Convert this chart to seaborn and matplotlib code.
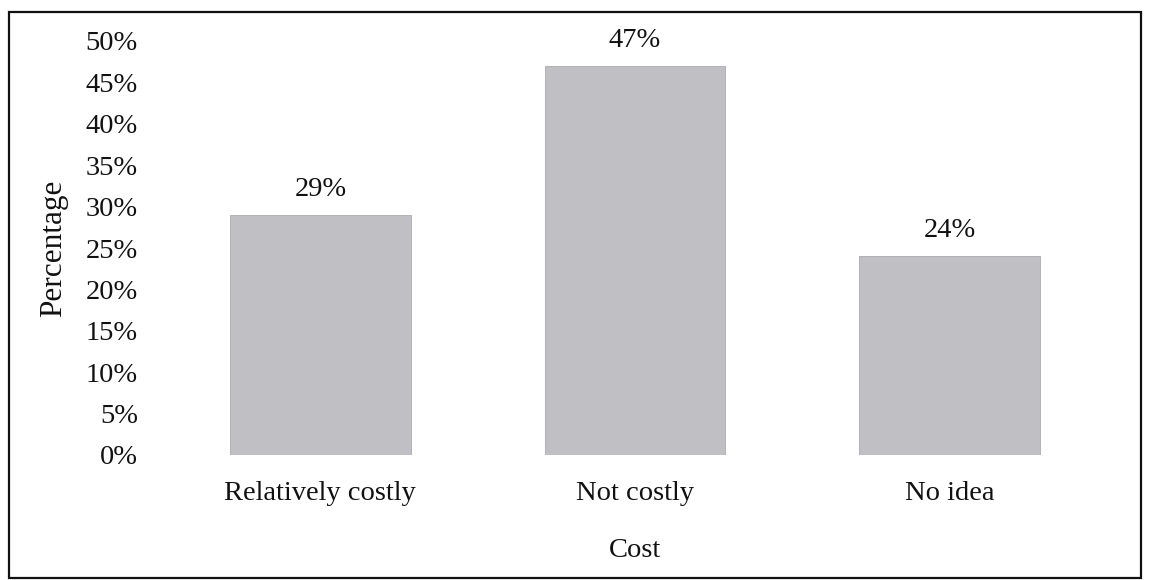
import matplotlib
matplotlib.use("Agg")
import matplotlib.pyplot as plt
import seaborn as sns
import pandas as pd
from matplotlib.patches import Rectangle
from matplotlib.ticker import FuncFormatter

categories = ["Relatively costly", "Not costly", "No idea"]
percentages = [29, 47, 24]
y_ticks = [0, 5, 10, 15, 20, 25, 30, 35, 40, 45, 50]

sns.set_theme(style="white")
plt.rcParams["font.family"] = ["Liberation Serif", "DejaVu Serif"]

df = pd.DataFrame({"Cost": categories, "Percentage": percentages})

fig = plt.figure(figsize=(11.49, 5.8), dpi=100)
ax = fig.add_axes([163 / 1149, 1 - 455 / 580, (1107 - 163) / 1149, (455 - 41) / 580])

sns.barplot(data=df, x="Cost", y="Percentage", color="#bfbfc4", width=0.575,
            saturation=1, ax=ax)
for p in ax.patches:
    p.set_edgecolor("#aaaaaf")
    p.set_linewidth(0.6)

ax.set_xlim(-0.5, 2.5)
ax.set_ylim(0, 50)
ax.set_yticks(y_ticks)
ax.yaxis.set_major_formatter(FuncFormatter(lambda v, _: f"{v:.0f}%"))
ax.tick_params(axis="both", length=0, labelsize=20.5, colors="#111111")
ax.tick_params(axis="y", pad=18)
ax.tick_params(axis="x", pad=19)
for s in ax.spines.values():
    s.set_visible(False)

ax.set_xlabel("Cost", fontsize=20.5, color="#111111", labelpad=23)
ax.set_ylabel("Percentage", fontsize=22.5, color="#111111", labelpad=13)

for i, v in enumerate(percentages):
    ax.text(i, v + 1.55, f"{v}%", ha="center", va="bottom", fontsize=20.5, color="#111111")

fig.patches.append(Rectangle((9 / 1149, 2 / 580), 1132 / 1149, (578 - 12) / 580,
                             transform=fig.transFigure, fill=False,
                             edgecolor="#111111", linewidth=1.6))

fig.savefig("out.png", dpi=100, facecolor="white")
